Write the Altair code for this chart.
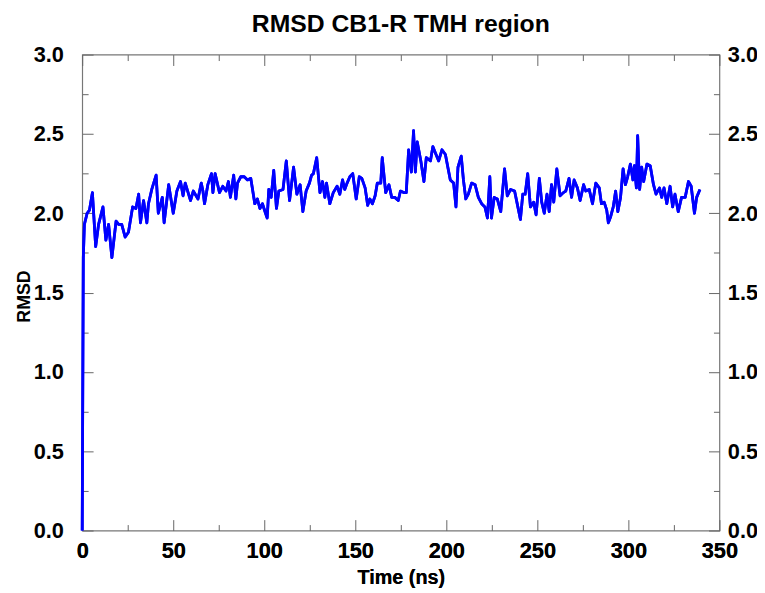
import altair as alt
import pandas as pd

# ---- data ----
time_ns = [
    0, 0.6, 1.2, 2.7, 4.0, 5.6, 7.4, 9.0, 11.4, 13.0, 14.5, 16.3, 18.6, 20.0, 21.7, 23.6, 25.4, 27.7, 29.5, 31.0,
    32.0, 33.7, 35.5, 36.4, 38.2, 40.6, 41.8, 44.0, 45.0, 47.5, 50.0, 52.0, 54.0, 55.4, 56.6, 59.5, 61.0,
    63.6, 65.4, 66.3, 67.2, 69.0, 71.0, 71.8, 73.0, 75.4, 77.2, 79.0, 80.3, 81.4, 83.2, 84.4, 85.3, 87.1, 89.0,
    90.8, 92.6, 94.8, 96.2, 97.6, 99.0, 100.7, 101.6, 102.5, 103.8, 105.2, 106.7, 108.0, 110.3, 112.1, 113.9,
    116.1, 117.9, 119.7, 121.2, 123.0, 124.8, 126.0, 127.0, 128.8,
    130.6, 132.0, 133.3, 134.2, 136.0, 137.9, 140.0, 141.5, 143.0, 144.2, 145.5, 147.0, 148.6, 150.5, 152.2,
    153.6, 155.4, 156.8, 158.0, 159.4, 160.9, 162.1, 164.0, 164.8, 166.7, 168.5, 170.0, 171.7, 173.6, 174.8,
    176.6, 178.0, 179.3, 180.8, 182.0, 183.0, 184.0, 186.0, 187.7, 189.0, 191.3, 192.6,
    194.0, 195.8, 197.6, 199.5, 201.0, 202.2, 204.0, 205.3, 206.4, 208.2, 209.4, 210.7, 212.1, 213.9, 215.8,
    217.6, 219.4, 221.2, 222.6, 223.9, 224.8, 226.3, 228.0, 229.9, 232.0, 233.5, 235.3, 237.5, 239.3, 240.7,
    242.0, 243.3, 244.7, 246.2, 248.0, 249.3, 251.1, 252.4, 253.8, 255.3, 256.5, 257.8, 259.0, 260.7, 262.5, 264.3,
    265.6, 267.4, 268.8, 270.2, 272.0, 273.5, 275.4, 276.6, 278.5, 280.3, 282.1, 284.0, 285.2, 286.7, 288.1,
    289.0, 290.3, 291.7, 293.0, 294.2, 295.7, 297.1, 298.4, 299.6, 301.1, 302.5, 303.3, 304.4, 305.1, 306.2,
    307.3, 308.4, 310.2, 312.0, 313.8, 315.2, 317.1, 318.3, 319.6, 321.1, 322.9, 324.3, 325.6, 327.4, 329.2,
    331.2, 333.0, 334.5, 336.3, 337.5, 339.3,
]
rmsd = [
    0.0, 1.72, 1.93, 2.0, 2.02, 2.13, 1.79, 1.93, 2.04, 1.83, 1.93, 1.72, 1.95, 1.93, 1.93, 1.85, 1.88, 2.04, 2.03, 2.12,
    1.94, 2.08, 1.94, 2.06, 2.15, 2.24, 2.0, 2.1, 1.94, 2.18, 2.0, 2.14, 2.2, 2.11, 2.19, 2.08, 2.14,
    2.09, 2.19, 2.14, 2.06, 2.18, 2.25, 2.13, 2.25, 2.13, 2.17, 2.14, 2.2, 2.1, 2.24, 2.09, 2.19, 2.23, 2.23,
    2.21, 2.22, 2.06, 2.09, 2.03, 2.06, 2.0, 1.97, 2.15, 2.1, 2.27, 2.03, 2.14, 2.15, 2.33, 2.08,
    2.29, 2.12, 2.18, 2.01, 2.14, 2.19, 2.24, 2.25, 2.35,
    2.13, 2.2, 2.1, 2.19, 2.06, 2.13, 2.17, 2.12, 2.21, 2.15, 2.19, 2.23, 2.25, 2.09, 2.23,
    2.22, 2.16, 2.05, 2.09, 2.06, 2.11, 2.19, 2.19, 2.35, 2.13, 2.18, 2.1, 2.1, 2.08, 2.14,
    2.13, 2.13, 2.4, 2.26, 2.52, 2.26, 2.45, 2.33, 2.2, 2.35, 2.33, 2.42,
    2.38, 2.33, 2.4, 2.37, 2.28, 2.21, 2.19, 2.04, 2.29, 2.36, 2.21, 2.09, 2.12, 2.19, 2.18,
    2.1, 2.06, 2.04, 1.97, 2.23, 1.97, 2.1, 2.09, 2.01, 2.28, 2.11, 2.15, 2.14, 2.04, 1.96,
    2.12, 2.12, 2.25, 2.04, 2.07, 1.99, 2.22, 2.07, 2.0, 2.12, 2.01, 2.18, 2.07, 2.28, 2.11, 2.13,
    2.14, 2.22, 2.1, 2.21, 2.16, 2.08, 2.18, 2.14, 2.15, 2.06, 2.19, 2.16, 2.06, 2.07, 2.02,
    1.94, 1.98, 2.04, 2.14, 2.01, 2.1, 2.28, 2.18, 2.23, 2.31, 2.21, 2.3, 2.16, 2.49, 2.15,
    2.29, 2.2, 2.31, 2.3, 2.18, 2.12, 2.16, 2.1, 2.16, 2.06, 2.17, 2.04, 2.12, 2.01, 2.1,
    2.1, 2.2, 2.17, 2.0, 2.1, 2.15,
]

x_major = [0, 50, 100, 150, 200, 250, 300, 350]
x_minor = [25, 75, 125, 175, 225, 275, 325]
y_major = [0.0, 0.5, 1.0, 1.5, 2.0, 2.5, 3.0]
y_minor = [0.25, 0.75, 1.25, 1.75, 2.25, 2.75]

df = pd.DataFrame({"time": time_ns, "rmsd": rmsd})

W, H = 644, 481
FONT = "Liberation Sans, Arial, sans-serif"
TICK = "#666666"
MAJ, MIN = 11, 6
LABEL_SIZE = 22

xs = alt.Scale(domain=[0, 350], nice=False, zero=False)
ys = alt.Scale(domain=[0, 3], nice=False, zero=False)


def tick_axis(orient, values, size, offset):
    return alt.Axis(orient=orient, values=values, offset=offset, labels=False, ticks=True,
                    tickSize=size, tickColor=TICK, tickWidth=1, domain=False, grid=False, title="")


def layer(xaxis, yaxis, visible=False):
    mark = alt.Chart(df).mark_line(color="#0000ff", strokeWidth=2.8,
                                   strokeJoin="round", opacity=1 if visible else 0)
    return mark.encode(
        x=alt.X("time:Q", scale=xs, axis=xaxis),
        y=alt.Y("rmsd:Q", scale=ys, axis=yaxis),
    )


x_main = alt.Axis(orient="bottom", values=x_major, ticks=False, tickSize=0, domain=False, grid=False,
                  labelFont=FONT, labelFontSize=LABEL_SIZE, labelFontWeight="bold", labelColor="black",
                  labelPadding=10, labelFlush=False, labelOverlap=False, format="d",
                  title="Time (ns)", titleFont=FONT, titleFontSize=20, titleFontWeight="bold",
                  titleColor="black", titleY=48, titleBaseline="middle")
y_main = alt.Axis(orient="left", values=y_major, ticks=False, tickSize=0, domain=False, grid=False,
                  labelFont=FONT, labelFontSize=LABEL_SIZE, labelFontWeight="bold", labelColor="black",
                  labelPadding=19, labelOverlap=False, format=".1f",
                  title="RMSD", titleFont=FONT, titleFontSize=18, titleFontWeight="bold",
                  titleColor="black", titleX=-58, titleY=244, titleAlign="center",
                  titleBaseline="middle")
y_right = alt.Axis(orient="right", values=y_major, ticks=False, tickSize=0, domain=False, grid=False,
                   labelFont=FONT, labelFontSize=LABEL_SIZE, labelFontWeight="bold", labelColor="black",
                   labelPadding=8, labelOverlap=False, format=".1f", title="")

layers = [
    layer(tick_axis("top", x_major, MAJ, -H), y_right),
    layer(tick_axis("top", x_minor, MIN, -H), tick_axis("right", y_major, MAJ, -W)),
    layer(tick_axis("bottom", x_major, MAJ, -H), tick_axis("right", y_minor, MIN, -W)),
    layer(tick_axis("bottom", x_minor, MIN, -H), tick_axis("left", y_major, MAJ, -W)),
    layer(x_main, tick_axis("left", y_minor, MIN, -W), visible=True),
    layer(x_main, y_main, visible=True),
]

chart = (
    alt.layer(*layers)
    .resolve_scale(x="independent", y="independent")
    .properties(
        width=W, height=H,
        title=alt.TitleParams("RMSD CB1-R TMH region", font=FONT, fontSize=25, fontWeight="bold",
                              color="black", anchor="middle", frame="group", offset=-13,
                              baseline="alphabetic"),
        autosize=alt.AutoSizeParams(type="none"),
        padding={"left": 75, "top": 44, "right": 38, "bottom": 56},
    )
    .configure_view(stroke="#777777", strokeWidth=1.2)
)

chart.save("out.html", embed_options={"renderer": "svg", "actions": False})
